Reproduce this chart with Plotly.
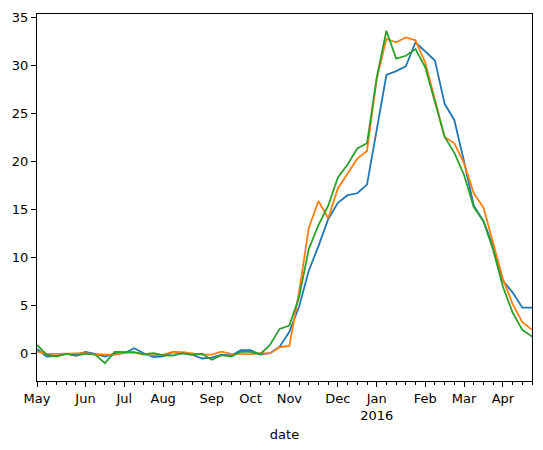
import pandas as pd
import plotly.graph_objects as go

dates = pd.date_range("2015-05-03", periods=52, freq="7D")

series_a = [0.5, -0.27, -0.2, 0.0, -0.07, 0.2, 0.0, -0.27, 0.0, 0.07,
            0.58, 0.07, -0.34, -0.27, 0.17, 0.07, -0.07, -0.48, -0.38, -0.07,
            -0.17, 0.38, 0.38, -0.07, 0.07, 0.75, 2.3, 4.9, 8.65, 11.2,
            14.0, 15.7, 16.5, 16.7, 17.6, 23.3, 29.0, 29.4, 29.9, 32.4,
            31.5, 30.5, 26.0, 24.3, 20.0, 15.4, 13.8, 11.2, 7.6, 6.4,
            4.8, 4.8]
series_b = [0.24, 0.0, 0.0, 0.0, 0.0, 0.07, -0.03, -0.1, -0.1, 0.14,
            0.14, -0.07, -0.14, -0.07, 0.2, 0.17, 0.03, -0.07, -0.07, 0.24,
            0.0, -0.03, -0.03, 0.07, 0.05, 0.69, 0.82, 6.4, 13.1, 15.9,
            14.1, 17.2, 18.8, 20.3, 21.1, 28.6, 32.75, 32.4, 32.9, 32.6,
            30.3, 26.3, 22.55, 21.9, 19.8, 16.7, 15.2, 11.5, 7.8, 5.2,
            3.3, 2.5]
series_c = [0.93, -0.07, -0.27, 0.0, -0.2, 0.03, -0.07, -0.96, 0.2, 0.2,
            0.17, -0.03, 0.07, -0.14, -0.17, 0.07, -0.1, 0.03, -0.62, -0.14,
            -0.27, 0.2, 0.2, -0.03, 0.93, 2.6, 2.95, 5.9, 10.9, 13.4,
            15.4, 18.35, 19.7, 21.35, 21.9, 28.7, 33.6, 30.7, 31.0, 31.7,
            29.8, 26.2, 22.55, 20.9, 18.6, 15.25, 13.8, 10.8, 7.0, 4.3,
            2.5, 1.8]

colors = ["#1f77b4", "#ff7f0e", "#2ca02c"]
y_ticks = [0, 5, 10, 15, 20, 25, 30, 35]

# first week of each month -> major tick
month_ticks = []
month_labels = []
prev = None
for d in dates:
    if d.month != prev:
        month_ticks.append(d)
        lab = d.strftime("%b")
        if d.month == 1:
            lab += "<br>" + d.strftime("%Y")
        month_labels.append(lab)
        prev = d.month

fig = go.Figure()
for ys, c in zip([series_a, series_b, series_c], colors):
    fig.add_trace(go.Scatter(x=dates, y=ys, mode="lines",
                             line=dict(color=c, width=1.8),
                             showlegend=False, hoverinfo="skip"))

font = dict(family="DejaVu Sans", size=13, color="black")
fig.update_layout(
    width=543, height=450,
    margin=dict(l=37, r=10, t=11, b=69),
    paper_bgcolor="white", plot_bgcolor="white",
    font=font,
    xaxis=dict(
        range=[dates[0], dates[-1]],
        tickmode="array", tickvals=month_ticks, ticktext=month_labels,
        ticks="outside", ticklen=5, tickwidth=1, tickcolor="black",
        showline=True, linecolor="black", linewidth=1, mirror=True,
        showgrid=False, zeroline=False,
        minor=dict(ticks="outside", ticklen=3, tickwidth=1, tickcolor="black",
                   tickmode="array", tickvals=list(dates), showgrid=False),
        title=dict(text="date", font=font, standoff=8),
        tickfont=font,
    ),
    yaxis=dict(
        range=[-2.82, 35.34],
        tickmode="array", tickvals=y_ticks,
        ticks="outside", ticklen=5, tickwidth=1, tickcolor="black",
        showline=True, linecolor="black", linewidth=1, mirror=True,
        showgrid=False, zeroline=False,
        tickfont=font,
    ),
)

fig.write_html("out.html")
